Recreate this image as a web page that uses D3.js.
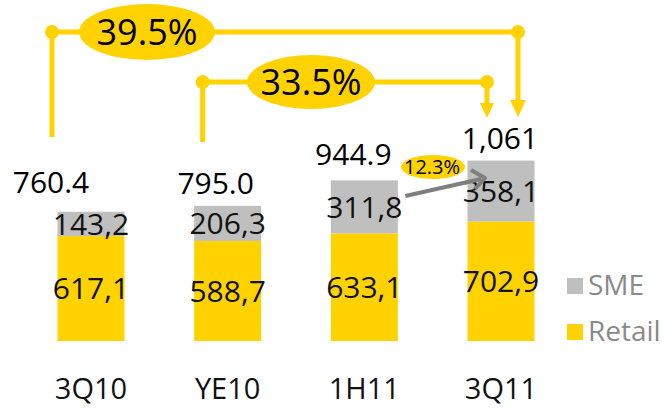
<!DOCTYPE html>
<html>
<head>
<meta charset="utf-8">
<script src="https://cdn.jsdelivr.net/npm/d3@7"></script>
<style>
  body { margin: 0; background: #fff; }
  text { font-family: "Open Sans", sans-serif; }
</style>
</head>
<body>
<div id="chart"></div>
<script>
var periods = ["3Q10", "YE10", "1H11", "3Q11"];
var retail = [617.1, 588.7, 633.1, 702.9];
var sme = [143.2, 206.3, 311.8, 358.1];
var totals = [760.4, 795.0, 944.9, 1061];
var retailLabels = ["617,1", "588,7", "633,1", "702,9"];
var smeLabels = ["143,2", "206,3", "311,8", "358,1"];
var totalLabels = ["760.4", "795.0", "944.9", "1,061"];
var growthLabels = ["39.5%", "33.5%", "12.3%"];
var legendNames = ["SME", "Retail"];

var width = 669,
    height = 408;

var yellow = "#FFD200",
    grey = "#BFBFBF";

var svg = d3.select("#chart").append("svg")
    .attr("width", width)
    .attr("height", height);

var x = d3.scalePoint()
    .domain(periods)
    .range([91, 501]);

var y = d3.scaleLinear()
    .domain([0, 2000])
    .range([341, 1]);

var barW = 67;

var rows = periods.map(function(p, i) {
    return {p: p, retail: retail[i], sme: sme[i], total: totals[i],
            rl: retailLabels[i], sl: smeLabels[i], tl: totalLabels[i]};
});

// label nudges (totals sit a bit left of the bars)
var totalNudge = [[-40, -19], [-12, -12], [-11, -15], [-1, -12]];

var bars = svg.selectAll("g.bar")
    .data(rows)
    .enter().append("g")
    .attr("class", "bar");

bars.append("rect")
    .attr("x", function(d) { return x(d.p) - barW / 2; })
    .attr("y", function(d) { return y(d.retail); })
    .attr("width", barW)
    .attr("height", function(d) { return y(0) - y(d.retail); })
    .style("fill", yellow);

bars.append("rect")
    .attr("x", function(d) { return x(d.p) - barW / 2; })
    .attr("y", function(d) { return y(d.retail + d.sme); })
    .attr("width", barW)
    .attr("height", function(d) { return y(d.retail) - y(d.retail + d.sme); })
    .style("fill", grey);

bars.append("text")
    .attr("x", function(d) { return x(d.p); })
    .attr("y", function(d) { return (y(0) + y(d.retail)) / 2; })
    .attr("dy", "0.36em")
    .attr("text-anchor", "middle")
    .style("font-size", "30px")
    .style("fill", "#111")
    .text(function(d) { return d.rl; });

bars.append("text")
    .attr("x", function(d) { return x(d.p); })
    .attr("y", function(d) { return (y(d.retail) + y(d.retail + d.sme)) / 2; })
    .attr("dy", "0.36em")
    .attr("text-anchor", "middle")
    .style("font-size", "30px")
    .style("fill", "#111")
    .text(function(d) { return d.sl; });

bars.append("text")
    .attr("x", function(d, i) { return x(d.p) + totalNudge[i][0]; })
    .attr("y", function(d, i) { return y(d.retail + d.sme) + totalNudge[i][1]; })
    .attr("text-anchor", "middle")
    .style("font-size", "30px")
    .style("fill", "#000")
    .text(function(d) { return d.tl; });

bars.append("text")
    .attr("x", function(d) { return x(d.p); })
    .attr("y", 399)
    .attr("text-anchor", "middle")
    .style("font-size", "29px")
    .style("fill", "#111")
    .text(function(d) { return d.p; });

// legend
var legend = svg.selectAll("g.legend")
    .data(legendNames)
    .enter().append("g")
    .attr("class", "legend")
    .attr("transform", function(d, i) { return "translate(567," + (278 + i * 46) + ")"; });

legend.append("rect")
    .attr("width", 16)
    .attr("height", 16)
    .style("fill", function(d) { return d == "SME" ? grey : yellow; });

legend.append("text")
    .attr("x", 21)
    .attr("y", 17)
    .style("font-size", "28px")
    .style("fill", "#8a8a8a")
    .text(function(d) { return d; });

// growth brackets
function bracket(x1, x2, yLine, yLeftEnd, yTip, head, label, lx, rx, ry, fs) {
    var g = svg.append("g");
    g.append("path")
        .attr("d", "M" + x1 + "," + yLeftEnd + "V" + yLine + "H" + x2 + "V" + (yTip - head[1]))
        .style("fill", "none")
        .style("stroke", yellow)
        .style("stroke-width", 5);
    g.append("circle").attr("cx", x1).attr("cy", yLine).attr("r", 7).style("fill", yellow);
    g.append("circle").attr("cx", x2).attr("cy", yLine).attr("r", 7).style("fill", yellow);
    g.append("path")
        .attr("d", "M" + (x2 - head[0]) + "," + (yTip - head[1]) + "L" + (x2 + head[0]) + "," + (yTip - head[1]) + "L" + x2 + "," + yTip + "Z")
        .style("fill", yellow);
    g.append("ellipse")
        .attr("cx", lx).attr("cy", yLine)
        .attr("rx", rx).attr("ry", ry)
        .style("fill", yellow);
    g.append("text")
        .attr("x", lx).attr("y", yLine)
        .attr("dy", "0.36em")
        .attr("text-anchor", "middle")
        .style("font-size", fs + "px")
        .style("fill", "#000")
        .text(label);
}

bracket(x("3Q10") - 39, x("3Q11") + 17, 32, 137, 117, [8, 17], growthLabels[0], 147, 68, 28, 36);
bracket(x("YE10") - 25, x("3Q11") - 14, 82, 142, 118, [7, 15], growthLabels[1], 311, 64, 27, 36);

// 1H11 -> 3Q11 SME growth arrow
var ax1 = x("1H11") + 41, ay1 = 196,
    ax2 = x("3Q11") - 16, ay2 = 178;
svg.append("line")
    .attr("x1", ax1).attr("y1", ay1)
    .attr("x2", ax2 - 4).attr("y2", ay2 + 1)
    .style("stroke", "#7f7f7f")
    .style("stroke-width", 4);
svg.append("path")
    .attr("d", "M" + (ax2 - 14) + "," + (ay2 - 8) + "L" + ax2 + "," + ay2 + "L" + (ax2 - 10) + "," + (ay2 + 11))
    .style("fill", "none")
    .style("stroke", "#7f7f7f")
    .style("stroke-width", 4)
    .style("stroke-linejoin", "round");
svg.append("ellipse")
    .attr("cx", 433).attr("cy", 167)
    .attr("rx", 32).attr("ry", 12)
    .style("fill", yellow);
svg.append("text")
    .attr("x", 432).attr("y", 167)
    .attr("dy", "0.36em")
    .attr("text-anchor", "middle")
    .style("font-size", "20px")
    .style("fill", "#000")
    .text(growthLabels[2]);
</script>
</body>
</html>
